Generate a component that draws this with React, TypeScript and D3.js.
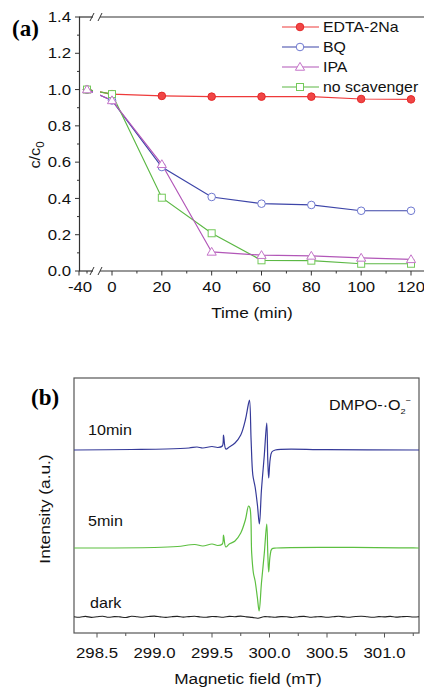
import React from "react";
import * as d3 from "d3";

// ---------- (a) data ----------
const TIME = [-30, 0, 20, 40, 60, 80, 100, 120];
const EDTA = [1.0, 0.975, 0.965, 0.961, 0.961, 0.961, 0.948, 0.946];
const BQ = [1.0, 0.94, 0.573, 0.408, 0.371, 0.364, 0.332, 0.332];
const IPA = [1.0, 0.94, 0.588, 0.105, 0.087, 0.083, 0.072, 0.064];
const NOSCAV = [1.0, 0.975, 0.404, 0.208, 0.059, 0.057, 0.04, 0.04];
const SERIES_NAMES = ["EDTA-2Na", "BQ", "IPA", "no scavenger"];
const X_TICKS_A = [-40, 0, 20, 40, 60, 80, 100, 120];
const X_MINOR_A = [-30, 10, 30, 50, 70, 90, 110];
const Y_TICKS_A = [0, 0.2, 0.4, 0.6, 0.8, 1.0, 1.2, 1.4];
const Y_MINOR_A = [0.1, 0.3, 0.5, 0.7, 0.9, 1.1, 1.3];

// ---------- (b) data ----------
const BLUE_FIELD = [298.3, 298.8, 299.1, 299.3, 299.37, 299.42, 299.5, 299.55, 299.59, 299.6, 299.62, 299.65, 299.7, 299.75, 299.79, 299.815, 299.826, 299.84, 299.855, 299.875, 299.895, 299.912, 299.93, 299.955, 299.976, 299.985, 299.993, 300.005, 300.02, 300.05, 300.5, 301.3];
const BLUE_INT = [0, 0.5, 1, 2, 3, 2, 3.5, 2.5, 4, 15, 1, 3, 7, 15, 30, 45, 50, 10, -25, -37, -55, -74, -40, -5, 27, -10, -28, -10, -2, 0, 0.3, 0];
const GREEN_FIELD = [298.3, 299.0, 299.2, 299.35, 299.42, 299.5, 299.55, 299.59, 299.6, 299.62, 299.65, 299.7, 299.75, 299.79, 299.818, 299.83, 299.845, 299.86, 299.875, 299.895, 299.91, 299.93, 299.955, 299.976, 299.985, 299.993, 300.005, 300.02, 300.06, 301.3];
const GREEN_INT = [0, 0.5, 1.5, 3.5, 2, 4, 2.5, 4, 13, 1, 4, 7, 15, 28, 42, 40, -5, -25, -33, -50, -63, -35, -5, 24, -5, -24, -8, -1, 0, 0];
const DARK_INT = [0.3, -0.2, 0.6, -0.4, 0.2, 0.8, -0.3, 0.4, 0.1, -0.5, 0.7, 0.2, -0.2, 0.5, 0.9, 0.1, -0.4, 0.3, 0.6, -0.1, 0.4, 0.8, 0.0, -0.3, 0.5, 0.2, -0.2, 0.6, 0.3, 0.9, 0.1, -0.4, -1.2, 0.3, 0.1, -0.2, 0.4, 0.2, -0.5, 0.3, 0.6, -0.2, 0.1, 0.4, -0.3, 0.2, 0.7, 0.1, -0.2, 0.5, 0.8, 0.2, -0.3, 0.4, 0.1, 0.6, -0.1, 0.3, 0.5, 0.0, 0.2];
const X_TICKS_B = [298.5, 299.0, 299.5, 300.0, 300.5, 301.0];
const X_MINOR_B = [298.75, 299.25, 299.75, 300.25, 300.75, 301.25];
const SPEC_LABELS = ["10min", "5min", "dark"];

const FONT = "'Liberation Sans', Arial, sans-serif";
const SX = 1.15;

function T({ x, y, size = 14, anchor = "start", rotate = 0, children, weight = "normal", family = FONT, fill = "#111" }: any) {
  return (
    <g transform={`translate(${x},${y}) rotate(${rotate}) scale(${SX},1)`}>
      <text textAnchor={anchor} fontSize={size} fontFamily={family} fontWeight={weight} fill={fill}>
        {children}
      </text>
    </g>
  );
}

function Marker({ kind, x, y, color, fill }: any) {
  if (kind === "circleFilled") return <circle cx={x} cy={y} r={3.8} fill={fill} stroke={color} strokeWidth={1} />;
  if (kind === "circle") return <circle cx={x} cy={y} r={3.8} fill="white" stroke={color} strokeWidth={1} />;
  if (kind === "tri") {
    const s = 4.6;
    return <path d={`M${x},${y - s}L${x + s},${y + s * 0.7}L${x - s},${y + s * 0.7}Z`} fill="white" stroke={color} strokeWidth={1} />;
  }
  return <rect x={x - 3.5} y={y - 3.5} width={7} height={7} fill="white" stroke={color} strokeWidth={1} />;
}

export default function App() {
  const W = 424, H = 687;
  // ---- (a) scales
  const xa = d3.scaleLinear().domain([-40, -20, 0, 120]).range([79, 95, 112, 411]);
  const ya = d3.scaleLinear().domain([0, 1.4]).range([271, 17]);
  const axisColor = "#333";
  const series = [
    { name: SERIES_NAMES[0], vals: EDTA, line: "#ee3a3a", mk: "#e52a2a", fill: "#f04545", kind: "circleFilled" },
    { name: SERIES_NAMES[1], vals: BQ, line: "#3d45a8", mk: "#6e78d0", fill: "white", kind: "circle" },
    { name: SERIES_NAMES[3], vals: NOSCAV, line: "#5cb845", mk: "#74c95a", fill: "white", kind: "sq" },
    { name: SERIES_NAMES[2], vals: IPA, line: "#b257b8", mk: "#c574c9", fill: "white", kind: "tri" },
  ];
  const legendOrder = [series[0], series[1], series[3], series[2]];
  const lineA = d3.line<number>().x((_, i) => xa(TIME[i])).y((v) => ya(v));

  // ---- (b) scales
  const xb = d3.scaleLinear().domain([298.3, 301.3]).range([74, 419]);
  const yb = d3.scaleLinear().domain([0, 255]).range([633, 378]);
  const offsets = [183, 85, 16];
  const specLine = d3.line<[number, number]>().x((d) => xb(d[0])).y((d) => yb(d[1])).curve(d3.curveCatmullRom.alpha(0.5));
  const blue: [number, number][] = BLUE_FIELD.map((f, i) => [f, BLUE_INT[i] + offsets[0]]);
  const green: [number, number][] = GREEN_FIELD.map((f, i) => [f, GREEN_INT[i] + offsets[1]]);
  const darkField = d3.range(DARK_INT.length).map((i) => 298.3 + i * 0.05);
  const dark: [number, number][] = DARK_INT.map((v, i) => [darkField[i], v + offsets[2]]);

  const breakX1 = 93, breakX2 = 100;

  return (
    <svg width={W} height={H} viewBox={`0 0 ${W} ${H}`} style={{ display: "block", position: "absolute", left: 0, top: 0, background: "white" }}>
      <defs>
        <clipPath id="brk">
          <rect x={0} y={0} width={breakX1} height={300} />
          <rect x={breakX2} y={0} width={W - breakX2} height={300} />
        </clipPath>
      </defs>
      <rect width={W} height={H} fill="white" />
      {/* ===== (a) ===== */}
      <line x1={79.5} y1={17} x2={79.5} y2={271} stroke={axisColor} strokeWidth={1.2} />
      <line x1={79} y1={271} x2={breakX1} y2={271} stroke={axisColor} strokeWidth={1.2} />
      <line x1={breakX2} y1={271} x2={W + 5} y2={271} stroke={axisColor} strokeWidth={1.2} />
      <line x1={79} y1={17} x2={breakX1} y2={17} stroke={axisColor} strokeWidth={1.2} />
      <line x1={breakX2} y1={17} x2={W + 5} y2={17} stroke={axisColor} strokeWidth={1.2} />
      {[17, 271].map((yy) => (
        <g key={yy} stroke={axisColor} strokeWidth={1}>
          <line x1={breakX1 - 3} y1={yy + 4} x2={breakX1 + 1} y2={yy - 4} />
          <line x1={breakX2 - 2} y1={yy + 4} x2={breakX2 + 2} y2={yy - 4} />
        </g>
      ))}
      {Y_TICKS_A.map((t) => (
        <g key={t}>
          <line x1={75} x2={79.5} y1={ya(t)} y2={ya(t)} stroke={axisColor} strokeWidth={1} />
          <T x={71} y={ya(t) + 5.2} size={14.6} anchor="end">{t.toFixed(1)}</T>
        </g>
      ))}
      {Y_MINOR_A.map((t) => (
        <line key={t} x1={77} x2={79.5} y1={ya(t)} y2={ya(t)} stroke={axisColor} strokeWidth={1} />
      ))}
      {X_TICKS_A.map((t) => (
        <g key={t}>
          <line x1={xa(t)} x2={xa(t)} y1={271} y2={275.5} stroke={axisColor} strokeWidth={1} />
          <T x={xa(t) + (t === -40 ? 1 : 0)} y={292} size={14.6} anchor="middle">{String(t)}</T>
        </g>
      ))}
      {X_MINOR_A.map((t) => (
        <line key={t} x1={xa(t)} x2={xa(t)} y1={271} y2={273.5} stroke={axisColor} strokeWidth={1} />
      ))}
      <T x={252} y={318} size={15} anchor="middle">Time (min)</T>
      <T x={40} y={155} size={14.2} anchor="middle" rotate={-90}>
        c/c<tspan fontSize={10} dy={4}>0</tspan>
      </T>
      <text x={12} y={36} fontFamily="'Liberation Serif', 'Times New Roman', serif" fontWeight="bold" fontSize={23}>(a)</text>

      <g clipPath="url(#brk)">
        {series.map((s) => (
          <path key={s.name} d={lineA(s.vals) || ""} fill="none" stroke={s.line} strokeWidth={1.2} />
        ))}
      </g>
      {series.map((s) => (
        <g key={s.name + "m"}>
          {s.vals.map((v, i) => (
            <Marker key={i} kind={s.kind} x={xa(TIME[i])} y={ya(v)} color={s.mk} fill={s.fill} />
          ))}
        </g>
      ))}
      {legendOrder.map((s, i) => {
        const ly = 27 + i * 20;
        return (
          <g key={s.name + "l"}>
            <line x1={282} x2={319} y1={ly} y2={ly} stroke={s.line} strokeWidth={1.2} />
            <Marker kind={s.kind} x={300} y={ly} color={s.mk} fill={s.fill} />
            <T x={323} y={ly + 5} size={13.8}>{s.name}</T>
          </g>
        );
      })}

      {/* ===== (b) ===== */}
      <rect x={74} y={378} width={345} height={255} fill="none" stroke="#555" strokeWidth={1.2} />
      {X_TICKS_B.map((t) => (
        <g key={t}>
          <line x1={xb(t)} x2={xb(t)} y1={633} y2={637.5} stroke="#555" strokeWidth={1} />
          <T x={xb(t)} y={657.5} size={14.6} anchor="middle">{t.toFixed(1)}</T>
        </g>
      ))}
      {X_MINOR_B.map((t) => (
        <line key={t} x1={xb(t)} x2={xb(t)} y1={633} y2={636} stroke="#555" strokeWidth={1} />
      ))}
      <T x={248} y={684} size={15} anchor="middle">Magnetic field (mT)</T>
      <T x={50} y={509} size={15} anchor="middle" rotate={-90}>Intensity (a.u.)</T>
      <text x={31} y={405} fontFamily="'Liberation Serif', 'Times New Roman', serif" fontWeight="bold" fontSize={23}>(b)</text>
      <T x={329} y={410} size={14}>
        DMPO-·O<tspan fontSize={8} dy={4}>2</tspan><tspan fontSize={8} dy={-11}>−</tspan>
      </T>
      <T x={88} y={435} size={14}>{SPEC_LABELS[0]}</T>
      <T x={88} y={526} size={14}>{SPEC_LABELS[1]}</T>
      <T x={90} y={608} size={14}>{SPEC_LABELS[2]}</T>
      <path d={specLine(dark) || ""} fill="none" stroke="#222" strokeWidth={1.1} />
      <path d={specLine(green) || ""} fill="none" stroke="#5cbf40" strokeWidth={1.2} />
      <path d={specLine(blue) || ""} fill="none" stroke="#353a99" strokeWidth={1.2} />
    </svg>
  );
}
